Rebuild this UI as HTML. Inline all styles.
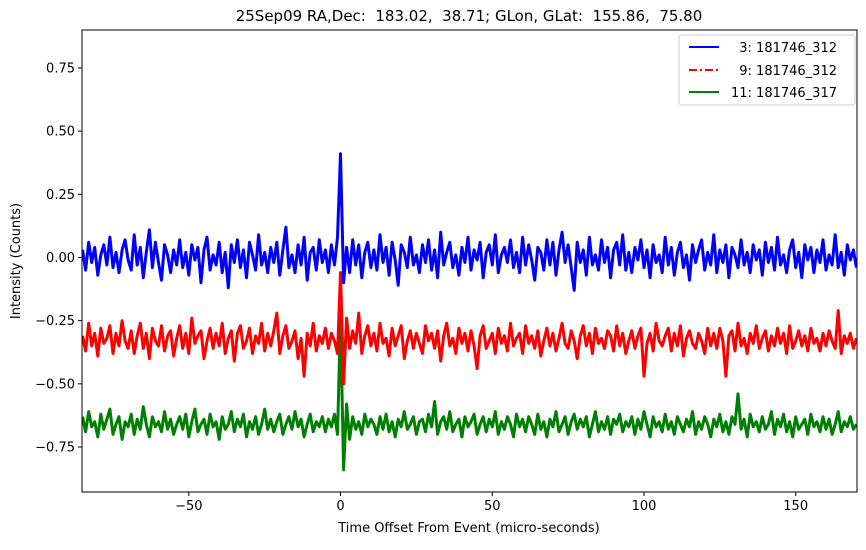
<!DOCTYPE html>
<html><head><meta charset="utf-8">
<style>
body{margin:0;background:#fff;font-family:"Liberation Sans","DejaVu Sans",sans-serif;}
svg text{font-family:"DejaVu Sans","Liberation Sans",sans-serif;}
</style></head>
<body>
<svg id="chart" width="866" height="545" xmlns="http://www.w3.org/2000/svg">
<rect x="0" y="0" width="866" height="545" fill="#fff"/>
<g id="series"></g>
<rect x="0" y="0" width="82" height="545" fill="#fff"/>
<rect x="857" y="0" width="9" height="545" fill="#fff"/>
<g id="axes"></g>
<rect x="82" y="30" width="775" height="462" fill="none" stroke="#000" stroke-width="1"/>
<text x="469" y="21" font-size="15" text-anchor="middle" xml:space="preserve">25Sep09 RA,Dec:  183.02,  38.71; GLon, GLat:  155.86,  75.80</text>
<text x="469" y="532" font-size="13" text-anchor="middle">Time Offset From Event (micro-seconds)</text>
<text transform="translate(20,261) rotate(-90)" font-size="13" text-anchor="middle">Intensity (Counts)</text>
<g>
<rect x="679" y="35" width="176" height="70" rx="3" fill="#fff" stroke="#ccc"/>
<line x1="689" y1="47" x2="719" y2="47" stroke="#0000ff" stroke-width="2"/>
<text x="731" y="52" font-size="13" xml:space="preserve">  3: 181746_312</text>
<line x1="689" y1="70" x2="719" y2="70" stroke="#ff0000" stroke-width="2" stroke-dasharray="8,3,2,3"/>
<text x="731" y="75" font-size="13" xml:space="preserve">  9: 181746_312</text>
<line x1="689" y1="92" x2="719" y2="92" stroke="#008000" stroke-width="2"/>
<text x="731" y="97" font-size="13">11: 181746_317</text>
</g>
</svg>
<script>
const tStart = -85;
const tStep = 1;
const xTicks = [-50, 0, 50, 100, 150];
const yTicks = [0.75, 0.50, 0.25, 0.00, -0.25, -0.50, -0.75];
const yTickLabels = ["0.75","0.50","0.25","0.00","−0.25","−0.50","−0.75"];
// values in hundredths of counts
const blueVals = [3,-5,6,-2,4,-7,1,5,-3,8,-4,2,-6,3,7,-1,
-5,9,-3,4,-8,2,11,-4,6,-2,-9,5,1,-6,3,-3,
7,-4,2,-7,5,-1,4,-10,3,8,-5,1,-3,6,-6,2,
-12,5,-2,7,-4,3,-8,6,1,-5,9,-3,2,-6,4,-2,
6,-7,3,12,-4,1,-6,5,-3,8,-9,2,4,-5,7,-2,
3,-6,5,-3,8,41,-10,4,-6,7,-3,5,-8,2,6,-4,
3,-5,9,-2,4,-7,6,-1,-11,5,2,-4,8,-3,1,-6,
5,-2,7,-5,3,-8,10,-3,2,6,-4,1,-7,4,-2,8,
-5,3,-1,6,-8,2,5,-3,9,-6,1,4,-2,7,-4,2,
-6,8,-3,5,-1,-9,4,2,-5,7,-3,6,-7,3,10,-2,
5,-4,-13,6,-2,3,-7,8,-3,1,-5,7,-2,4,-8,3,
6,-3,9,-5,2,-6,4,-1,7,-4,3,-8,5,-2,1,-6,
8,-3,4,-7,2,6,-4,1,-9,5,-2,3,7,-5,2,-3,
9,-6,3,-2,5,-8,4,1,-4,7,-3,2,-6,5,-1,3,
-7,6,-2,4,-5,8,-3,1,-6,3,7,-4,2,-8,5,-1,
4,-6,3,-2,7,-5,1,-3,9,-4,2,-7,5,-1,3,-4];
const redVals = [-31,-37,-26,-35,-30,-39,-28,-34,-32,-27,-38,-30,-35,-25,-33,-36,
-29,-38,-31,-26,-36,-30,-40,-28,-33,-35,-27,-37,-31,-29,-39,-32,
-27,-36,-30,-38,-24,-34,-31,-29,-40,-33,-28,-36,-30,-35,-26,-38,
-32,-29,-41,-30,-27,-36,-33,-28,-38,-31,-34,-26,-37,-30,-35,-29,
-22,-38,-31,-27,-36,-33,-29,-40,-32,-47,-30,-35,-26,-37,-31,-34,
-28,-36,-30,-33,-38,-6,-50,-24,-36,-29,-34,-22,-38,-31,-27,-35,
-30,-37,-26,-34,-32,-39,-28,-35,-31,-27,-40,-33,-29,-36,-30,-34,
-38,-27,-33,-30,-36,-29,-41,-31,-26,-35,-32,-38,-28,-34,-30,-37,
-29,-35,-44,-31,-27,-36,-33,-30,-38,-28,-34,-31,-37,-26,-35,-32,
-30,-38,-27,-34,-31,-36,-29,-39,-33,-28,-35,-30,-37,-32,-26,-34,
-36,-29,-33,-40,-31,-27,-35,-30,-38,-28,-34,-32,-36,-29,-31,-37,
-27,-35,-30,-38,-33,-29,-36,-31,-28,-47,-34,-30,-37,-26,-33,-35,
-31,-28,-37,-30,-35,-27,-39,-32,-29,-34,-36,-30,-33,-38,-28,-35,
-30,-36,-28,-33,-47,-31,-29,-37,-26,-35,-32,-38,-30,-34,-27,-36,
-32,-29,-37,-31,-35,-28,-34,-30,-38,-27,-36,-33,-29,-35,-31,-37,
-28,-34,-32,-37,-30,-35,-29,-33,-36,-21,-38,-31,-34,-30,-36,-32];
const greenVals = [-63,-69,-61,-67,-65,-71,-62,-68,-64,-60,-70,-66,-63,-72,-65,-67,
-62,-70,-64,-68,-59,-66,-71,-63,-67,-65,-69,-61,-68,-64,-70,-66,
-63,-68,-62,-71,-65,-60,-69,-66,-64,-70,-62,-67,-65,-72,-63,-68,
-66,-61,-69,-64,-67,-62,-71,-65,-68,-63,-70,-66,-60,-68,-64,-69,
-65,-62,-70,-66,-63,-68,-61,-67,-64,-71,-66,-62,-69,-65,-67,-63,
-69,-64,-67,-62,-70,-24,-84,-58,-72,-63,-68,-65,-70,-62,-67,-64,
-66,-70,-63,-68,-62,-69,-65,-71,-64,-67,-61,-68,-66,-63,-70,-65,
-64,-69,-62,-67,-57,-70,-65,-63,-68,-61,-69,-66,-64,-71,-63,-67,
-65,-62,-70,-66,-63,-69,-64,-67,-61,-70,-65,-68,-63,-66,-71,-62,
-67,-64,-69,-63,-66,-70,-62,-68,-65,-71,-64,-67,-61,-69,-66,-63,
-70,-65,-62,-68,-64,-67,-63,-71,-66,-61,-69,-65,-68,-63,-70,-64,
-66,-62,-69,-65,-67,-63,-70,-64,-68,-61,-66,-71,-63,-67,-65,-69,
-62,-68,-65,-70,-63,-66,-69,-64,-67,-61,-70,-65,-68,-63,-66,-71,
-64,-67,-62,-69,-65,-70,-63,-66,-54,-68,-64,-71,-62,-67,-65,-69,
-63,-68,-66,-61,-70,-64,-67,-62,-69,-65,-71,-63,-68,-66,-64,-70,
-62,-67,-65,-69,-63,-68,-64,-70,-66,-61,-69,-65,-67,-63,-68,-66];

const X0=82,X1=857,Y0=30,Y1=492,xMin=-85.2,xMax=170.2,yMin=-0.928,yMax=0.90;
function xs(t){return X0+(t-xMin)/(xMax-xMin)*(X1-X0);}
function ys(v){return Y1-(v-yMin)/(yMax-yMin)*(Y1-Y0);}
const NS="http://www.w3.org/2000/svg";
const sg=document.getElementById('series');
function drawSeries(vals,color,name){
  const pts=vals.map((v,i)=>xs(tStart+i*tStep).toFixed(1)+','+ys(v/100).toFixed(1)).join(' ');
  const p=document.createElementNS(NS,'polyline');
  p.setAttribute('points',pts);
  p.setAttribute('fill','none');
  p.setAttribute('stroke',color);
  p.setAttribute('stroke-width','3');
  p.setAttribute('stroke-linejoin','round');
  
  
  sg.appendChild(p);
}
drawSeries(greenVals,'#008000','series-11');
drawSeries(redVals,'#ff0000','series-9');
drawSeries(blueVals,'#0000ff','series-3');
const ag=document.getElementById('axes');
xTicks.forEach(t=>{
  const x=xs(t);
  const l=document.createElementNS(NS,'line');
  l.setAttribute('x1',x);l.setAttribute('x2',x);l.setAttribute('y1',Y1);l.setAttribute('y2',Y1+4);
  l.setAttribute('stroke','#000');
  
  
  ag.appendChild(l);
  const tx=document.createElementNS(NS,'text');
  tx.setAttribute('x',x);tx.setAttribute('y',Y1+18);tx.setAttribute('font-size','13');tx.setAttribute('text-anchor','middle');
  tx.textContent=t<0?'−'+Math.abs(t):String(t);
  
  
  ag.appendChild(tx);
});
yTicks.forEach((v,i)=>{
  const y=ys(v);
  const l=document.createElementNS(NS,'line');
  l.setAttribute('x1',X0-4);l.setAttribute('x2',X0);l.setAttribute('y1',y);l.setAttribute('y2',y);
  l.setAttribute('stroke','#000');
  
  
  ag.appendChild(l);
  const tx=document.createElementNS(NS,'text');
  tx.setAttribute('x',X0-7);tx.setAttribute('y',y+4.5);tx.setAttribute('font-size','13');tx.setAttribute('text-anchor','end');
  tx.textContent=yTickLabels[i];
  
  
  ag.appendChild(tx);
});
</script>
</body></html>
